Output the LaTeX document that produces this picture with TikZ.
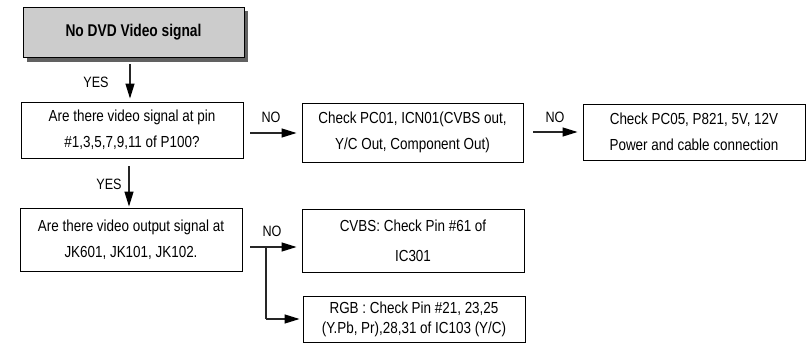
\documentclass[tikz,border=0pt]{standalone}
\usepackage{fontspec}
\setmainfont{Liberation Sans}[FakeStretch=0.84]
\usetikzlibrary{arrows.meta,calc}
\begin{document}
\begin{tikzpicture}[x=1pt,y=-1pt,
  box/.style={draw=black,line width=0.9pt,fill=white,rectangle,minimum width=222pt,align=center,font=\fontsize{16}{26}\selectfont,inner sep=0pt},
  lbl/.style={font=\fontsize{15}{16}\selectfont,inner sep=0pt},
  arr/.style={line width=1.2pt,draw=black!85,-{Triangle[length=15pt,width=9pt,fill=black,color=black]}},
  ln/.style={line width=1.2pt,draw=black!85}]
\useasboundingbox (0,0) rectangle (807,353);
% title with shadow
\fill[black!62] (27,11) rectangle (248,62);
\node[draw=black,line width=0.9pt,fill=black!20,minimum width=221pt,minimum height=50pt,inner sep=0pt,font=\bfseries\fontsize{17}{18}\selectfont] (top) at (133.5,32) {\addfontfeature{FakeStretch=0.81}No DVD Video signal};
\node[box,minimum height=56pt] (q1) at (132,130) {Are there video signal at pin\\\#1,3,5,7,9,11 of P100?};
\node[box,minimum width=221pt,minimum height=59pt] (c1) at (412.5,132.5) {Check PC01, ICN01(CVBS out,\\Y/C Out, Component Out)};
\node[box,minimum height=56pt] (c2) at (694,132) {Check PC05, P821, 5V, 12V\\Power and cable connection};
\node[box,minimum height=63pt] (q2) at (131,239.5) {Are there video output signal at\\JK601, JK101, JK102.};
\node[box,minimum height=63pt,font=\fontsize{16}{30}\selectfont] (cv) at (413,240.5) {CVBS: Check Pin \#61 of\\IC301};
\node[box,minimum height=46pt,font=\fontsize{16}{20}\selectfont] (rgb) at (414,319) {RGB : Check Pin \#21, 23,25\\(Y.Pb, Pr),28,31 of IC103 (Y/C)};
% labels
\node[lbl] (y1) at (96,82) {YES};
\node[lbl] (n1) at (271,117) {NO};
\node[lbl] (n2) at (555,117) {NO};
\node[lbl] (y2) at (109,184) {YES};
\node[lbl] (n3) at (272,231) {NO};
% connectors
\coordinate (a1s) at (130,64);
\draw[arr] (a1s) -- ($(a1s |- q1.north)+(0,-3)$);
\coordinate (a2s) at (250,133);
\draw[arr] (a2s) -- ($(a2s -| c1.west)+(-5,0)$);
\coordinate (a3s) at (533,132);
\draw[arr] (a3s) -- ($(a3s -| c2.west)+(-5,0)$);
\coordinate (a4s) at (129,166);
\draw[arr] (a4s) -- ($(a4s |- q2.north)+(0,-1)$);
\coordinate (a5s) at (250,247);
\coordinate (br) at (266,247);
\coordinate (bc) at (266,319);
\draw[arr] (a5s) -- ($(a5s -| cv.west)+(-5,0)$);
\draw[ln] (br) -- (bc);
\draw[arr] (bc) -- ($(bc -| rgb.west)+(-3,0)$);
\end{tikzpicture}
\end{document}
